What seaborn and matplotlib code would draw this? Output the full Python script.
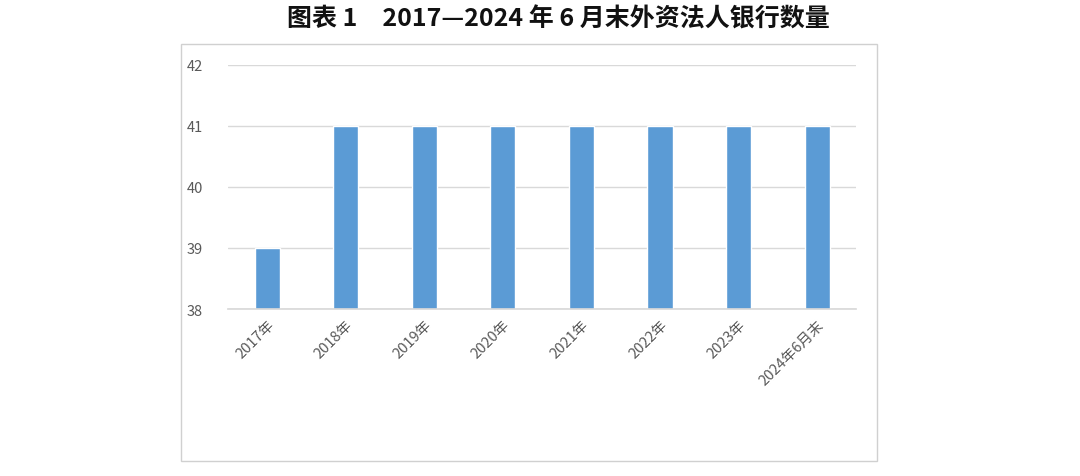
import matplotlib
matplotlib.use("Agg")
import matplotlib.pyplot as plt
import seaborn as sns
import pandas as pd
from matplotlib.patches import Rectangle

categories = ["2017年", "2018年", "2019年", "2020年", "2021年", "2022年", "2023年", "2024年6月末"]
values = [39, 41, 41, 41, 41, 41, 41, 41]
title = "图表 1　2017—2024 年 6 月末外资法人银行数量"

sns.set_theme(style="white")
plt.rcParams['font.family'] = ['Noto Sans CJK SC', 'DejaVu Sans']

df = pd.DataFrame({"cat": categories, "val": values})
fig = plt.figure(figsize=(10.8, 4.77), dpi=100)
fig.patches.append(Rectangle((0.1676, 0.0314), 0.644, 0.874, transform=fig.transFigure,
                             fill=False, edgecolor="#d0d0d0", linewidth=1))
ax = fig.add_axes([0.211, 0.350, 0.582, 0.512])
sns.barplot(data=df, x="cat", y="val", color="#5B9BD5", width=0.32, ax=ax, saturation=1)
ax.set_ylim(38, 42)
ax.set_yticks([38, 39, 40, 41, 42])
ax.yaxis.grid(True, color="#d9d9d9", linewidth=1)
ax.set_axisbelow(True)
for s in ["top", "right", "left"]:
    ax.spines[s].set_visible(False)
ax.spines["bottom"].set_color("#d9d9d9")
ax.set_xlabel("")
ax.set_ylabel("")
ax.tick_params(axis="both", colors="#595959", labelsize=10.5, length=0)
ax.tick_params(axis="y", pad=18)
ax.tick_params(axis="x", pad=6)
plt.setp(ax.get_xticklabels(), rotation=45, ha="right", rotation_mode="anchor")
fig.text(0.517, 0.96, title, ha="center", va="center", fontsize=18, fontweight="semibold", color="#111111")
fig.savefig("out.png", dpi=100)
